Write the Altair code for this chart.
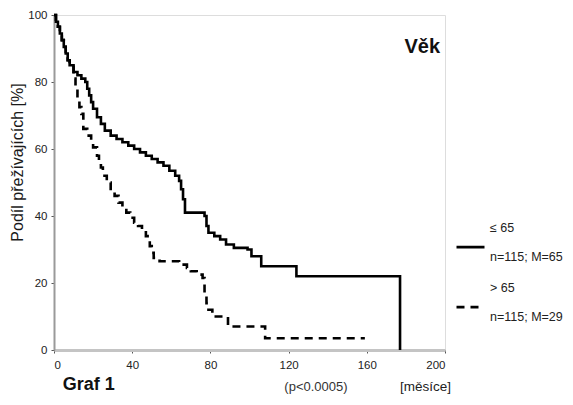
import altair as alt
import pandas as pd

# Kaplan-Meier curves (months, % surviving)
solid_t = [0, 1, 2, 3, 4, 5, 6, 7, 8, 10, 12, 14, 16, 17, 18, 19, 20, 22, 24, 26,
           29, 32, 35, 38, 41, 44, 47, 50, 53, 56, 59, 62, 64, 65, 66, 67, 77, 78,
           79, 82, 85, 88, 92, 99, 101, 106, 124, 177]
solid_s = [100, 98, 96.5, 94.5, 92.5, 90.5, 88.5, 86.5, 85, 83, 82, 81, 80, 78, 76,
           74, 72, 69.5, 67.5, 65.5, 64, 63, 62, 61, 60, 59, 58, 57, 56, 55, 53.5,
           52, 50.5, 48, 45, 41, 40, 37, 35, 34, 33, 31.5, 30.5, 30, 28, 25, 22, 0]

dashed_t = [0, 1, 2, 3, 4, 5, 6, 7, 8, 10, 11, 12, 13, 14, 15, 17, 19, 20, 22, 23,
            24, 25, 27, 29, 31, 33, 35, 37, 39, 41, 43, 45, 47, 49, 50, 51, 54, 64,
            68, 70, 73, 76, 77, 78, 79, 81, 89, 108, 159]
dashed_s = [100, 98, 96.5, 94.5, 92.5, 90.5, 88.5, 86.5, 85, 81, 78, 75, 72.5, 70.5,
            66, 64, 62, 60.5, 58, 56, 54.5, 52, 50, 47.5, 46, 44, 42.5, 41, 39.5, 38,
            37, 35.5, 34, 31, 29, 27.5, 26.5, 25.5, 24.5, 23.5, 22.5, 21.5, 17, 14,
            12, 10, 7, 3.5, 3.5]

groups = ["≤ 65", "> 65"]
group_notes = ["n=115; M=65", "n=115; M=29"]
x_ticks = [0, 40, 80, 120, 160, 200]
y_ticks = [0, 20, 40, 60, 80, 100]

# group name, an invisible spacer line, then the note line
labels = [f"{g}\n\u200b\n{n}" for g, n in zip(groups, group_notes)]

rows = []
for t, s in zip(solid_t, solid_s):
    rows.append({"t": t, "s": s, "group": labels[0]})
for t, s in zip(dashed_t, dashed_s):
    rows.append({"t": t, "s": s, "group": labels[1]})
df = pd.DataFrame(rows)

FONT = "Liberation Sans"

xscale = alt.Scale(domain=[0, 200], nice=False, zero=True)
yscale = alt.Scale(domain=[0, 100], nice=False, zero=True)

lines = alt.Chart(df).mark_line(
    interpolate="step-after", strokeWidth=2.6, color="black", clip=False
).encode(
    x=alt.X("t:Q", scale=xscale, axis=alt.Axis(
        values=x_ticks, title=None, grid=False, domainColor="#c4c4c4", domainWidth=3,
        tickColor="#555555", tickSize=3, labelFontSize=11.5, labelColor="#222222",
        labelPadding=6, labelFont=FONT)),
    y=alt.Y("s:Q", scale=yscale, axis=alt.Axis(
        values=y_ticks, title="Podíl přežívajících [%]", grid=False,
        domainColor="#9a9a9a", domainWidth=2, tickColor="#555555", tickSize=3,
        labelFontSize=11.5, labelColor="#222222", labelPadding=4, labelFont=FONT,
        titleFont=FONT, titleFontSize=16, titleFontWeight="normal", titleColor="#1a1a1a",
        titleX=-45, titleY=147, titleAngle=-90, titleBaseline="top", titleAlign="center")),
    strokeDash=alt.StrokeDash("group:N", scale=alt.Scale(domain=labels, range=[[1, 0], [8, 6]]),
        legend=alt.Legend(
            title=None, orient="none", legendX=401, legendY=197, padding=0,
            symbolType="M-1,1.4H1", symbolSize=784, symbolStrokeWidth=2.6,
            symbolStrokeColor="black", labelFont=FONT, labelFontSize=12.5,
            labelColor="#222222", labelOffset=4, labelLimit=200, rowPadding=9,
            labelExpr="split(datum.label, '\\n')")),
    order="t:Q",
)

vek = alt.Chart(pd.DataFrame({"txt": ["Věk"]})).mark_text(
    align="right", baseline="middle", fontSize=20, fontWeight="bold", font=FONT, color="#111111"
).encode(x=alt.datum(197.5), y=alt.datum(90.5), text="txt:N")

graf = alt.Chart(pd.DataFrame({"txt": ["Graf 1"]})).mark_text(
    align="left", baseline="middle", fontSize=18, fontWeight="bold", font=FONT, color="#111111"
).encode(x=alt.datum(4.5), y=alt.value(370), text="txt:N")

pval = alt.Chart(pd.DataFrame({"txt": ["(p<0.0005)"]})).mark_text(
    align="center", baseline="middle", fontSize=13, font=FONT, color="#333333"
).encode(x=alt.datum(134), y=alt.value(372), text="txt:N")

unit = alt.Chart(pd.DataFrame({"txt": ["[měsíce]"]})).mark_text(
    align="center", baseline="middle", fontSize=13.5, font=FONT, color="#222222"
).encode(x=alt.datum(190), y=alt.value(372), text="txt:N")

chart = alt.layer(lines, vek, graf, pval, unit).properties(
    width=391, height=335,
    autosize=alt.AutoSizeParams(type="none"),
    padding={"left": 46, "top": 7, "right": 120, "bottom": 47},
).configure_view(
    stroke="#cccccc", strokeWidth=3
).configure(font=FONT, background="white")

chart.save("out.html", embed_options={"renderer": "svg", "actions": False})
